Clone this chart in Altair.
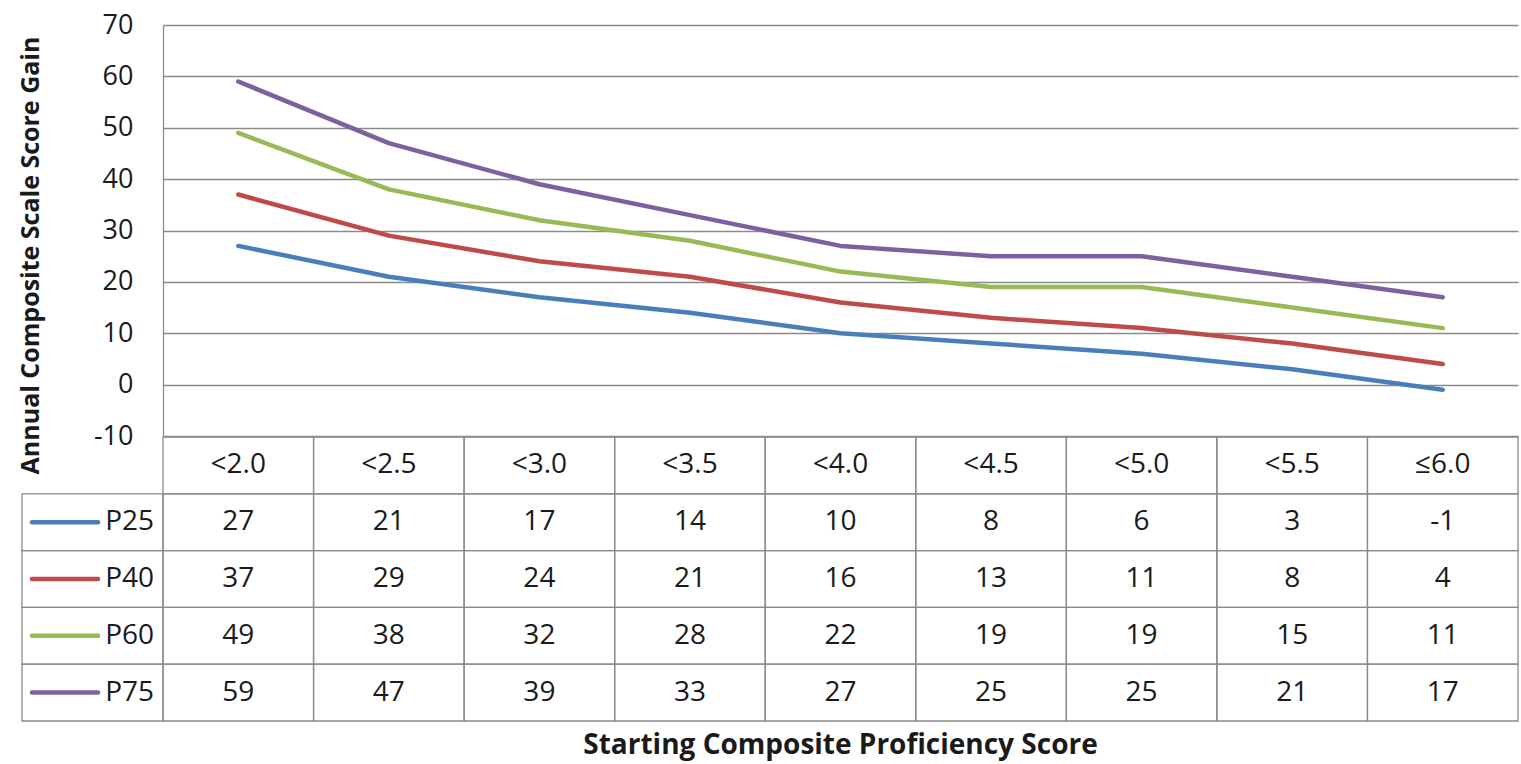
import altair as alt
import pandas as pd

categories = ["<2.0", "<2.5", "<3.0", "<3.5", "<4.0", "<4.5", "<5.0", "<5.5", "≤6.0"]
series_names = ["P25", "P40", "P60", "P75"]
p25 = [27, 21, 17, 14, 10, 8, 6, 3, -1]
p40 = [37, 29, 24, 21, 16, 13, 11, 8, 4]
p60 = [49, 38, 32, 28, 22, 19, 19, 15, 11]
p75 = [59, 47, 39, 33, 27, 25, 25, 21, 17]
y_ticks = [-10, 0, 10, 20, 30, 40, 50, 60, 70]
colors = ["#4A7EBB", "#BE4B48", "#98B954", "#7D60A0"]

y_title = "Annual Composite Scale Score Gain"
x_title = "Starting Composite Proficiency Score"

W, H = 1355, 696
GRID = "#8a8a8a"
TXT = "#1a1a1a"
FONT = "Open Sans, sans-serif"
BFONT = "Open Sans, sans-serif"

rows = ["hdr"] + series_names

recs = []
for name, vals in zip(series_names, [p25, p40, p60, p75]):
    for i, (c, v) in enumerate(zip(categories, vals)):
        recs.append({"i": i, "cat": c, "series": name, "row": name,
                     "value": v, "label": str(v), "lo": i - 0.5, "hi": i + 0.5})
df = pd.DataFrame(recs)

hdr = pd.DataFrame({"i": list(range(len(categories))), "cat": categories,
                    "row": "hdr", "label": categories})
hdr["lo"] = hdr["i"] - 0.5
hdr["hi"] = hdr["i"] + 0.5

cells = pd.concat([hdr[["i", "lo", "hi", "row"]], df[["i", "lo", "hi", "row"]]])
leg = pd.DataFrame({"series": series_names, "row": series_names})

xs = alt.Scale(domain=[-0.5, len(categories) - 0.5], nice=False, zero=False)
cs = alt.Scale(domain=series_names, range=colors)


def row_y():
    return alt.Y("row:N", scale=alt.Scale(type="band", domain=rows, range=[412, 696],
                                          paddingInner=0, paddingOuter=0), axis=None)


lines = alt.Chart(df).mark_line(strokeWidth=4.5, strokeCap="round", strokeJoin="round").encode(
    x=alt.X("i:Q", scale=xs, axis=None),
    y=alt.Y("value:Q",
            scale=alt.Scale(domain=[-10, 70], range=[411, 0], nice=False, zero=False),
            axis=alt.Axis(values=y_ticks, grid=True, gridColor=GRID, gridWidth=1.3,
                          domain=True, domainColor=GRID, domainWidth=1.3,
                          ticks=False, tickSize=0, labelPadding=30,
                          labelFont=FONT, labelFontSize=27, labelColor=TXT,
                          labelExpr="datum.value + ''",
                          title=y_title, titleFont=BFONT, titleFontSize=25,
                          titleFontWeight="bold", titleColor=TXT,
                          titleX=-133, titleY=230, titleAngle=270,
                          titleAlign="center", titleBaseline="middle")),
    color=alt.Color("series:N", scale=cs, legend=None),
    detail="series:N",
)

cell_rects = alt.Chart(cells).mark_rect(fill="white", fillOpacity=0, stroke=GRID, strokeWidth=1.3).encode(
    x=alt.X("lo:Q", scale=xs, axis=None),
    x2="hi:Q",
    y=row_y(),
)

leg_rects = alt.Chart(leg).mark_rect(fill="white", fillOpacity=0, stroke=GRID, strokeWidth=1.3).encode(
    x=alt.value(-141), x2=alt.value(0), y=row_y(),
)

leg_lines = alt.Chart(leg).mark_rule(strokeWidth=4.5, strokeCap="round").encode(
    x=alt.value(-131), x2=alt.value(-65), y=row_y(),
    color=alt.Color("series:N", scale=cs, legend=None),
)

leg_text = alt.Chart(leg).mark_text(align="right", baseline="middle", font=FONT,
                                    fontSize=28, color=TXT).encode(
    x=alt.value(-9), y=row_y(), text="series:N",
)

hdr_text = alt.Chart(hdr).mark_text(baseline="middle", font=FONT, fontSize=28, color=TXT).encode(
    x=alt.X("i:Q", scale=xs, axis=None), y=row_y(), text="label:N",
)

val_text = alt.Chart(df).mark_text(baseline="middle", font=FONT, fontSize=28, color=TXT).encode(
    x=alt.X("i:Q", scale=xs, axis=None), y=row_y(), text="label:N",
)

xt = alt.Chart(pd.DataFrame({"t": [x_title]})).mark_text(
    baseline="middle", font=BFONT, fontSize=28, fontWeight="bold", color=TXT).encode(
    x=alt.value(W / 2), y=alt.value(721), text="t:N",
)

chart = alt.layer(lines, cell_rects, leg_rects, leg_lines, leg_text, hdr_text, val_text, xt).resolve_scale(
    y="independent"
).properties(
    width=W, height=H,
    autosize=alt.AutoSizeParams(type="none"),
    padding={"left": 163, "top": 25, "right": 3, "bottom": 43},
    background="white",
).configure_view(stroke=None)

chart.save("out.html", embed_options={"renderer": "svg", "actions": False})
